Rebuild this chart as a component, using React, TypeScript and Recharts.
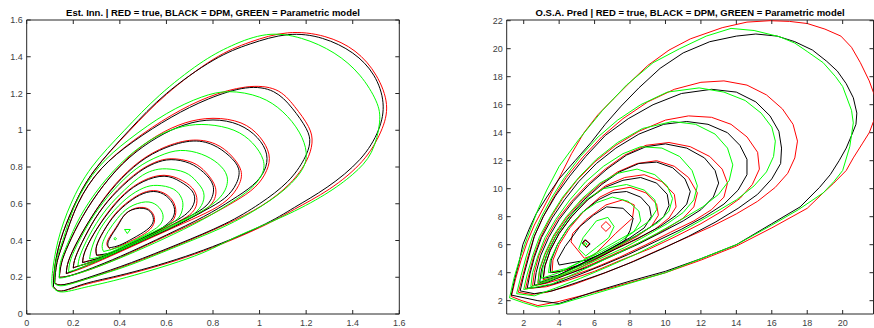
import React from 'react';
import { LineChart, Line, XAxis, YAxis, ReferenceArea } from 'recharts';

type Pt = [number, number];

const FONT = '"Liberation Sans", Arial, Helvetica, sans-serif';
const AXIS = '#262626';
const H = 328;

const estTicks = [0, 0.2, 0.4, 0.6, 0.8, 1, 1.2, 1.4, 1.6];
const osaXTicks = [2, 4, 6, 8, 10, 12, 14, 16, 18, 20];
const osaYTicks = [2, 4, 6, 8, 10, 12, 14, 16, 18, 20, 22];

// ---- Est. Inn. panel contours ----
const innTrue: Pt[][] = [
  [[0.115,0.15],[0.12,0.25],[0.145,0.40],[0.20,0.58],[0.29,0.78],[0.44,0.995],[0.60,1.195],[0.80,1.385],[0.96,1.48],[1.12,1.53],[1.28,1.51],[1.41,1.43],[1.50,1.30],[1.545,1.14],[1.52,0.99],[1.44,0.83],[1.30,0.68],[1.15,0.57],[1.00,0.47],[0.72,0.325],[0.43,0.215],[0.25,0.16],[0.15,0.125],[0.115,0.15]],
  [[0.12,0.17],[0.13,0.28],[0.16,0.40],[0.22,0.60],[0.32,0.79],[0.46,0.945],[0.62,1.08],[0.78,1.18],[0.94,1.235],[1.07,1.22],[1.15,1.13],[1.21,1.02],[1.225,0.93],[1.20,0.83],[1.13,0.71],[1.01,0.59],[0.85,0.485],[0.65,0.375],[0.45,0.275],[0.28,0.20],[0.16,0.16],[0.12,0.17]],
  [[0.14,0.20],[0.15,0.28],[0.18,0.38],[0.24,0.53],[0.33,0.70],[0.44,0.855],[0.56,0.97],[0.68,1.04],[0.80,1.065],[0.92,1.04],[1.00,0.965],[1.04,0.87],[1.03,0.78],[0.98,0.69],[0.89,0.61],[0.76,0.52],[0.60,0.425],[0.44,0.33],[0.30,0.255],[0.19,0.21],[0.14,0.20]],
  [[0.17,0.22],[0.18,0.29],[0.22,0.40],[0.28,0.53],[0.36,0.675],[0.46,0.805],[0.57,0.895],[0.70,0.945],[0.81,0.925],[0.88,0.86],[0.92,0.78],[0.91,0.70],[0.86,0.62],[0.77,0.55],[0.64,0.475],[0.50,0.395],[0.36,0.315],[0.24,0.25],[0.17,0.22]],
  [[0.20,0.25],[0.21,0.31],[0.25,0.42],[0.31,0.55],[0.39,0.675],[0.48,0.775],[0.55,0.825],[0.62,0.845],[0.71,0.825],[0.77,0.77],[0.81,0.69],[0.80,0.61],[0.745,0.55],[0.65,0.49],[0.54,0.425],[0.42,0.355],[0.30,0.29],[0.22,0.26],[0.20,0.25]],
  [[0.24,0.28],[0.25,0.34],[0.29,0.44],[0.35,0.555],[0.42,0.655],[0.50,0.725],[0.59,0.755],[0.67,0.725],[0.72,0.67],[0.73,0.60],[0.70,0.54],[0.63,0.49],[0.54,0.435],[0.44,0.375],[0.34,0.315],[0.27,0.29],[0.24,0.28]],
  [[0.30,0.32],[0.30,0.37],[0.33,0.45],[0.38,0.545],[0.44,0.615],[0.50,0.66],[0.56,0.67],[0.615,0.635],[0.64,0.57],[0.625,0.505],[0.57,0.455],[0.50,0.405],[0.42,0.355],[0.35,0.325],[0.30,0.32]],
  [[0.36,0.35],[0.345,0.39],[0.375,0.455],[0.40,0.505],[0.44,0.56],[0.50,0.58],[0.54,0.55],[0.548,0.50],[0.52,0.45],[0.46,0.405],[0.40,0.37],[0.36,0.35]],
];

const innDpm: Pt[][] = [
  [[0.115,0.15],[0.12,0.25],[0.145,0.40],[0.20,0.58],[0.29,0.78],[0.44,1.00],[0.60,1.20],[0.80,1.38],[0.96,1.47],[1.12,1.52],[1.27,1.50],[1.40,1.42],[1.49,1.30],[1.53,1.15],[1.51,1.00],[1.43,0.84],[1.29,0.69],[1.15,0.58],[1.00,0.475],[0.72,0.33],[0.43,0.22],[0.25,0.165],[0.15,0.125],[0.115,0.15]],
  [[0.12,0.17],[0.13,0.28],[0.16,0.40],[0.22,0.60],[0.32,0.79],[0.46,0.94],[0.62,1.07],[0.78,1.17],[0.94,1.23],[1.06,1.21],[1.14,1.12],[1.20,1.01],[1.215,0.93],[1.19,0.84],[1.12,0.72],[1.00,0.60],[0.85,0.49],[0.65,0.38],[0.45,0.28],[0.28,0.205],[0.16,0.16],[0.12,0.17]],
  [[0.14,0.20],[0.15,0.28],[0.18,0.38],[0.24,0.53],[0.33,0.70],[0.44,0.85],[0.56,0.96],[0.68,1.03],[0.80,1.056],[0.91,1.03],[0.99,0.96],[1.03,0.87],[1.02,0.78],[0.97,0.70],[0.88,0.62],[0.76,0.53],[0.60,0.43],[0.44,0.335],[0.30,0.26],[0.19,0.21],[0.14,0.20]],
  [[0.17,0.22],[0.18,0.29],[0.22,0.40],[0.28,0.53],[0.36,0.67],[0.46,0.80],[0.57,0.89],[0.70,0.94],[0.80,0.92],[0.87,0.86],[0.91,0.79],[0.90,0.71],[0.85,0.63],[0.76,0.56],[0.64,0.48],[0.50,0.40],[0.36,0.32],[0.24,0.255],[0.17,0.22]],
  [[0.20,0.25],[0.21,0.31],[0.25,0.42],[0.31,0.55],[0.39,0.67],[0.48,0.77],[0.55,0.82],[0.62,0.84],[0.70,0.82],[0.76,0.77],[0.80,0.70],[0.79,0.62],[0.74,0.56],[0.65,0.50],[0.54,0.43],[0.42,0.36],[0.30,0.295],[0.22,0.26],[0.20,0.25]],
  [[0.24,0.28],[0.25,0.34],[0.29,0.44],[0.35,0.55],[0.42,0.65],[0.50,0.72],[0.59,0.75],[0.66,0.72],[0.71,0.67],[0.72,0.61],[0.69,0.55],[0.63,0.50],[0.54,0.44],[0.44,0.38],[0.34,0.32],[0.27,0.29],[0.24,0.28]],
  [[0.30,0.32],[0.30,0.37],[0.33,0.45],[0.38,0.54],[0.44,0.61],[0.50,0.655],[0.56,0.665],[0.61,0.63],[0.635,0.57],[0.62,0.51],[0.57,0.46],[0.50,0.41],[0.42,0.36],[0.35,0.33],[0.30,0.32]],
  [[0.355,0.36],[0.35,0.393],[0.379,0.457],[0.40,0.50],[0.436,0.557],[0.50,0.575],[0.536,0.548],[0.543,0.502],[0.515,0.457],[0.457,0.412],[0.40,0.375],[0.355,0.36]],
];

const innParam: Pt[][] = [
  [[0.11,0.15],[0.11,0.22],[0.135,0.40],[0.19,0.60],[0.28,0.80],[0.42,1.00],[0.57,1.19],[0.74,1.36],[0.88,1.46],[1.03,1.52],[1.18,1.50],[1.32,1.42],[1.43,1.30],[1.50,1.16],[1.515,1.04],[1.48,0.88],[1.40,0.76],[1.28,0.65],[1.10,0.53],[0.90,0.42],[0.72,0.315],[0.43,0.20],[0.25,0.145],[0.15,0.12],[0.11,0.15]],
  [[0.12,0.165],[0.125,0.28],[0.155,0.40],[0.21,0.60],[0.31,0.80],[0.44,0.95],[0.60,1.09],[0.75,1.18],[0.87,1.21],[1.00,1.18],[1.10,1.10],[1.17,0.99],[1.20,0.88],[1.18,0.78],[1.10,0.67],[0.98,0.565],[0.83,0.465],[0.63,0.36],[0.44,0.265],[0.27,0.195],[0.16,0.155],[0.12,0.165]],
  [[0.14,0.195],[0.145,0.28],[0.175,0.38],[0.23,0.53],[0.32,0.70],[0.43,0.85],[0.55,0.96],[0.67,1.02],[0.78,1.03],[0.89,1.00],[0.97,0.93],[1.015,0.84],[1.01,0.76],[0.96,0.68],[0.87,0.60],[0.75,0.51],[0.59,0.41],[0.43,0.32],[0.29,0.25],[0.18,0.205],[0.14,0.195]],
  [[0.18,0.23],[0.19,0.30],[0.23,0.41],[0.29,0.54],[0.37,0.67],[0.47,0.79],[0.57,0.86],[0.66,0.89],[0.75,0.87],[0.82,0.82],[0.86,0.75],[0.85,0.67],[0.80,0.60],[0.71,0.53],[0.59,0.455],[0.46,0.38],[0.33,0.305],[0.23,0.25],[0.18,0.23]],
  [[0.22,0.26],[0.23,0.32],[0.27,0.43],[0.33,0.55],[0.40,0.65],[0.48,0.74],[0.54,0.78],[0.60,0.79],[0.68,0.77],[0.73,0.72],[0.76,0.66],[0.75,0.59],[0.70,0.53],[0.61,0.475],[0.50,0.41],[0.39,0.345],[0.29,0.29],[0.22,0.26]],
  [[0.27,0.30],[0.28,0.36],[0.31,0.45],[0.36,0.54],[0.43,0.63],[0.50,0.685],[0.56,0.70],[0.63,0.68],[0.665,0.63],[0.67,0.58],[0.65,0.52],[0.59,0.475],[0.50,0.42],[0.41,0.365],[0.32,0.315],[0.27,0.30]],
  [[0.33,0.34],[0.325,0.38],[0.35,0.45],[0.39,0.52],[0.44,0.58],[0.51,0.61],[0.56,0.59],[0.585,0.54],[0.575,0.49],[0.535,0.45],[0.47,0.405],[0.40,0.365],[0.33,0.34]],
];

const innParamPeaks: Pt[][] = [
  [[0.42,0.46],[0.445,0.46],[0.432,0.438],[0.42,0.46]],
  [[0.374,0.41],[0.38,0.416],[0.386,0.41],[0.38,0.403],[0.374,0.41]],
];

// ---- O.S.A. Pred panel contours ----
const osaTrue: Pt[][] = [
  [[1.3,2.3],[1.55,3.6],[1.85,4.9],[2.2,6.2],[2.6,7.4],[3.1,8.6],[3.6,9.8],[4.1,11.0],[4.7,12.5],[5.4,14.0],[6.2,15.3],[7.05,16.4],[8.0,17.6],[9.0,18.8],[10.2,19.9],[11.4,20.7],[13.2,21.5],[14.6,21.9],[15.9,22.0],[17.0,21.95],[18.0,21.8],[19.0,21.4],[19.9,20.9],[20.5,20.1],[21.0,19.0],[21.5,17.7],[21.9,16.3],[21.8,15.0],[21.5,14.0],[21.1,13.2],[20.6,12.2],[20.2,11.3],[19.5,10.4],[18.9,9.7],[18.0,8.6],[16.0,7.2],[14.0,5.9],[12.0,4.9],[10.0,4.0],[8.0,3.3],[6.0,2.6],[4.0,1.95],[2.8,1.65],[1.9,2.0],[1.3,2.3]],
  [[1.7,2.6],[1.95,3.8],[2.25,5.2],[2.6,6.6],[3.1,8.0],[3.7,9.4],[4.4,10.8],[5.3,12.2],[6.4,13.7],[7.6,15.0],[9.0,16.2],[10.5,17.1],[12.0,17.6],[13.3,17.7],[14.6,17.4],[15.7,16.7],[16.6,15.7],[17.2,14.6],[17.45,13.4],[17.3,12.2],[16.9,11.1],[16.2,10.1],[15.2,9.1],[14.0,8.2],[12.6,7.3],[11.0,6.4],[9.4,5.5],[7.8,4.6],[6.2,3.8],[4.7,3.1],[3.3,2.6],[2.4,2.45],[1.7,2.6]],
  [[2.1,2.85],[2.3,3.9],[2.55,5.1],[2.95,6.5],[3.5,7.9],[4.2,9.3],[5.0,10.6],[6.0,11.9],[7.2,13.1],[8.5,14.1],[10.0,14.9],[11.3,15.2],[12.6,15.1],[13.7,14.6],[14.6,13.7],[15.2,12.6],[15.3,11.4],[14.9,10.3],[14.2,9.3],[13.2,8.4],[12.0,7.5],[10.6,6.6],[9.1,5.7],[7.5,4.9],[6.0,4.1],[4.6,3.5],[3.3,3.0],[2.1,2.85]],
  [[2.5,3.05],[2.6,4.0],[2.85,5.2],[3.3,6.5],[3.9,7.8],[4.7,9.1],[5.6,10.3],[6.6,11.4],[7.7,12.4],[8.9,13.1],[10.2,13.3],[11.4,13.0],[12.5,12.3],[13.2,11.4],[13.5,10.4],[13.3,9.4],[12.6,8.5],[11.6,7.7],[10.3,6.9],[8.9,6.0],[7.4,5.1],[5.9,4.3],[4.5,3.7],[3.3,3.25],[2.5,3.05]],
  [[2.8,3.2],[2.9,4.2],[3.2,5.3],[3.7,6.6],[4.4,7.9],[5.3,9.2],[6.3,10.3],[7.3,11.2],[8.4,11.8],[9.5,12.0],[10.5,11.6],[11.3,10.8],[11.8,9.7],[11.6,8.7],[11.0,7.9],[10.0,7.1],[8.8,6.3],[7.4,5.5],[6.0,4.7],[4.7,4.0],[3.6,3.5],[2.8,3.2]],
  [[3.1,3.5],[3.2,4.5],[3.5,5.6],[4.0,6.8],[4.7,8.0],[5.6,9.2],[6.6,10.2],[7.7,10.8],[8.8,11.0],[9.8,10.5],[10.5,9.6],[10.6,8.7],[10.2,7.9],[9.4,7.1],[8.4,6.4],[7.2,5.7],[6.0,4.9],[4.9,4.2],[3.9,3.7],[3.1,3.5]],
  [[3.6,4.0],[3.65,4.9],[4.0,6.0],[4.6,7.2],[5.4,8.4],[6.3,9.4],[7.1,9.9],[8.0,10.1],[8.9,9.7],[9.5,8.9],[9.6,8.1],[9.2,7.3],[8.4,6.6],[7.4,5.9],[6.3,5.2],[5.3,4.6],[4.3,4.15],[3.6,4.0]],
  [[4.67,6.2],[5.42,5.03],[5.98,5.27],[7.2,6.82],[8.14,7.9],[8.24,8.84],[7.58,9.2],[6.64,8.84],[5.5,7.77],[4.76,6.8],[4.67,6.2]],
  [[6.36,7.3],[6.64,7.65],[6.92,7.3],[6.64,6.95],[6.36,7.3]],
  [[5.35,6.1],[5.5,6.35],[5.72,6.1],[5.55,5.85],[5.35,6.1]],
];

const osaDpm: Pt[][] = [
  [[1.3,2.4],[1.5,3.6],[1.75,4.8],[1.95,6.0],[2.3,7.1],[2.7,8.2],[3.3,9.4],[4.0,10.7],[4.9,12.0],[5.8,13.3],[6.6,14.6],[7.5,15.9],[8.5,17.2],[9.7,18.6],[11.0,19.7],[12.5,20.5],[14.0,20.9],[15.1,21.05],[16.3,20.9],[17.3,20.5],[18.3,19.9],[19.1,19.1],[19.7,18.4],[20.2,17.5],[20.6,16.5],[20.8,15.4],[20.75,14.6],[20.5,13.8],[20.2,12.9],[19.8,12.0],[19.3,11.0],[18.7,10.1],[17.6,8.7],[16.0,7.5],[14.0,6.0],[12.0,5.0],[10.0,4.1],[8.0,3.4],[6.0,2.65],[4.0,1.8],[2.8,2.0],[1.3,2.4]],
  [[1.8,2.7],[2.0,3.8],[2.3,5.2],[2.6,6.6],[3.1,8.0],[3.8,9.5],[4.6,10.9],[5.5,12.3],[6.6,13.8],[7.9,15.0],[9.3,16.0],[10.9,16.8],[12.6,17.1],[14.0,16.9],[15.1,16.2],[15.9,15.2],[16.4,14.1],[16.55,12.9],[16.5,11.8],[16.0,10.7],[15.2,9.6],[14.1,8.6],[12.8,7.6],[11.3,6.6],[9.8,5.7],[8.2,4.8],[6.6,4.0],[5.0,3.3],[3.6,2.7],[2.6,2.5],[1.8,2.7]],
  [[2.2,2.9],[2.35,3.9],[2.6,5.1],[3.0,6.5],[3.6,7.9],[4.3,9.2],[5.1,10.5],[6.1,11.8],[7.2,12.9],[8.5,13.9],[9.9,14.6],[11.2,14.8],[12.4,14.6],[13.5,14.0],[14.2,13.1],[14.6,12.1],[14.6,11.0],[14.1,9.9],[13.3,8.9],[12.2,8.0],[10.9,7.1],[9.4,6.2],[7.9,5.3],[6.4,4.5],[5.0,3.8],[3.7,3.2],[2.8,2.95],[2.2,2.9]],
  [[2.6,3.1],[2.7,4.0],[2.95,5.2],[3.4,6.5],[4.0,7.8],[4.8,9.1],[5.7,10.3],[6.7,11.4],[7.8,12.4],[8.9,13.0],[10.0,13.2],[11.2,12.9],[12.2,12.2],[12.8,11.3],[13.0,10.4],[12.7,9.4],[12.0,8.5],[11.0,7.7],[9.8,6.9],[8.4,6.0],[7.0,5.2],[5.6,4.4],[4.3,3.8],[3.3,3.3],[2.6,3.1]],
  [[2.9,3.3],[3.0,4.2],[3.3,5.3],[3.8,6.6],[4.5,7.9],[5.4,9.2],[6.4,10.3],[7.4,11.2],[8.5,11.8],[9.5,11.9],[10.4,11.5],[11.1,10.7],[11.4,9.8],[11.2,8.9],[10.6,8.1],[9.7,7.3],[8.5,6.5],[7.2,5.7],[5.9,4.9],[4.6,4.2],[3.6,3.6],[2.9,3.3]],
  [[3.1,3.6],[3.2,4.5],[3.5,5.6],[4.0,6.8],[4.7,8.0],[5.6,9.2],[6.6,10.1],[7.6,10.6],[8.6,10.8],[9.5,10.4],[10.1,9.6],[10.2,8.8],[9.9,8.0],[9.2,7.3],[8.3,6.6],[7.2,5.9],[6.0,5.1],[4.9,4.4],[3.9,3.8],[3.1,3.6]],
  [[3.5,4.0],[3.55,4.9],[3.9,6.0],[4.5,7.2],[5.3,8.3],[6.2,9.2],[7.0,9.7],[7.8,9.8],[8.6,9.4],[9.1,8.7],[9.2,8.0],[8.8,7.2],[8.0,6.5],[7.0,5.8],[6.0,5.1],[5.0,4.5],[4.1,4.1],[3.5,4.0]],
  [[4.0,4.55],[3.9,4.9],[4.33,5.86],[5.17,7.3],[5.93,8.1],[6.68,8.7],[7.6,8.6],[8.18,7.9],[8.0,7.0],[7.7,6.3],[6.68,5.5],[5.55,4.9],[4.0,4.55]],
  [[5.3,6.1],[5.45,6.35],[5.75,6.05],[5.55,5.8],[5.3,6.1]],
];

const osaParam: Pt[][] = [
  [[1.2,2.2],[1.45,3.6],[1.75,4.9],[2.2,6.5],[2.8,8.5],[3.3,9.9],[4.0,11.6],[5.1,13.5],[6.45,15.6],[7.8,17.4],[9.3,19.0],[10.8,20.0],[12.3,20.9],[13.7,21.45],[15.0,21.3],[16.45,20.85],[17.3,20.4],[18.0,19.8],[18.9,19.0],[19.6,18.0],[20.0,17.3],[20.5,15.6],[20.6,14.7],[20.4,13.0],[20.0,11.3],[19.5,10.5],[18.9,9.7],[17.5,8.5],[16.0,7.4],[14.0,6.0],[12.0,5.0],[10.0,4.0],[8.0,3.25],[6.0,2.5],[4.0,1.75],[2.8,1.55],[2.0,1.85],[1.2,2.2]],
  [[1.6,2.5],[1.85,3.8],[2.15,5.2],[2.5,6.6],[3.0,8.0],[3.6,9.4],[4.3,10.8],[5.2,12.3],[6.2,13.7],[7.3,14.9],[8.6,16.0],[10.1,16.9],[11.9,17.2],[13.3,16.9],[14.5,16.3],[15.4,15.4],[16.0,14.4],[16.2,13.4],[16.1,12.3],[15.7,11.2],[15.0,10.2],[14.0,9.2],[12.8,8.3],[11.4,7.3],[9.9,6.3],[8.3,5.3],[6.7,4.4],[5.2,3.6],[3.8,2.9],[2.6,2.35],[1.6,2.5]],
  [[2.0,2.8],[2.2,3.9],[2.5,5.2],[2.9,6.6],[3.5,8.0],[4.2,9.4],[5.1,10.8],[6.1,12.1],[7.3,13.3],[8.7,14.3],[10.4,14.8],[11.7,14.6],[12.8,13.9],[13.5,12.9],[13.8,11.7],[13.6,10.6],[13.0,9.6],[12.1,8.7],[10.9,7.8],[9.5,6.8],[8.0,5.8],[6.5,4.9],[5.0,4.0],[3.6,3.2],[2.0,2.8]],
  [[2.4,3.0],[2.5,4.0],[2.8,5.2],[3.2,6.5],[3.8,7.8],[4.6,9.2],[5.5,10.5],[6.5,11.6],[7.6,12.5],[8.6,13.0],[9.8,12.9],[10.8,12.3],[11.5,11.3],[11.8,10.2],[11.6,9.2],[11.0,8.3],[10.1,7.5],[9.0,6.7],[7.7,5.8],[6.3,5.0],[4.9,4.2],[3.6,3.5],[2.4,3.0]],
  [[2.8,3.3],[2.9,4.3],[3.2,5.4],[3.7,6.7],[4.4,8.0],[5.3,9.3],[6.3,10.4],[7.3,11.1],[8.4,11.4],[9.4,11.0],[10.1,10.2],[10.4,9.3],[10.2,8.4],[9.6,7.6],[8.7,6.9],[7.6,6.1],[6.4,5.3],[5.2,4.5],[4.0,3.8],[2.8,3.3]],
  [[3.0,3.6],[3.1,4.5],[3.4,5.6],[3.9,6.8],[4.6,8.0],[5.5,9.2],[6.5,10.0],[7.8,10.3],[8.8,9.9],[9.4,9.2],[9.5,8.5],[9.1,7.7],[8.3,7.0],[7.3,6.3],[6.2,5.5],[5.1,4.7],[4.0,4.0],[3.0,3.6]],
  [[3.4,4.0],[3.5,4.9],[3.9,6.0],[4.5,7.2],[5.3,8.3],[6.1,9.0],[7.0,9.4],[7.9,9.1],[8.5,8.4],[8.6,7.7],[8.2,6.9],[7.4,6.2],[6.4,5.5],[5.4,4.9],[4.4,4.3],[3.4,4.0]],
  [[5.1,5.7],[5.35,6.5],[6.1,7.7],[6.75,7.95],[7.1,7.3],[6.8,6.5],[6.1,5.8],[5.5,5.2],[5.1,5.7]],
  [[5.35,6.0],[5.45,6.15],[5.58,6.05],[5.45,5.92],[5.35,6.0]],
];

type Curve = 'natural' | 'linear';
type Group = { color: string; contours: Pt[][]; curve: Curve };

const RED = '#ff0000';
const BLACK = '#000000';
const GREEN = '#00ff00';

const toRows = (c: Pt[]) => c.map(([x, y]) => ({ x, y }));

// axis sits on the plot edge; ticks point inward, mirrored on the opposite side
const xTick = (top: number) => (props: any) => {
  const { x, y, payload } = props;
  return (
    <g>
      <line x1={x} y1={y} x2={x} y2={y - 4} stroke={AXIS} />
      <line x1={x} y1={top} x2={x} y2={top + 4} stroke={AXIS} />
      <text x={x} y={y + 12} textAnchor="middle" fontSize={9} fontFamily={FONT} fill="#404040">
        {payload.value}
      </text>
    </g>
  );
};

const yTick = (right: number) => (props: any) => {
  const { x, y, payload } = props;
  return (
    <g>
      <line x1={x} y1={y} x2={x + 4} y2={y} stroke={AXIS} />
      <line x1={right} y1={y} x2={right - 4} y2={y} stroke={AXIS} />
      <text x={x - 4} y={y + 3} textAnchor="end" fontSize={9} fontFamily={FONT} fill="#404040">
        {payload.value}
      </text>
    </g>
  );
};

interface PanelProps {
  title: string;
  left: number;
  width: number;
  plot: { left: number; top: number; right: number; bottom: number };
  xDomain: [number, number];
  yDomain: [number, number];
  xTicks: number[];
  yTicks: number[];
  groups: Group[];
}

const Panel: React.FC<PanelProps> = ({ title, left, width, plot, xDomain, yDomain, xTicks, yTicks, groups }) => {
  // axes need a size of at least 1px or recharts skips them
  const margin = { top: plot.top, right: width - plot.right, bottom: H - plot.bottom - 1, left: plot.left - 1 };
  return (
    <div style={{ position: 'absolute', left, top: 0, width, height: H }}>
      <div
        style={{
          position: 'absolute',
          left: plot.left,
          top: 7,
          width: plot.right - plot.left,
          textAlign: 'center',
          fontFamily: FONT,
          fontWeight: 'bold',
          fontSize: 9.5,
          lineHeight: '12px',
          whiteSpace: 'nowrap',
          color: '#000',
        }}
      >
        {title}
      </div>
      <LineChart width={width} height={H} margin={margin}>
        <XAxis
          type="number"
          dataKey="x"
          domain={xDomain}
          allowDataOverflow
          ticks={xTicks}
          interval={0}
          height={1}
          tickSize={0}
          tickMargin={0}
          axisLine={false}
          tickLine={false}
          tick={xTick(plot.top)}
        />
        <YAxis
          type="number"
          domain={yDomain}
          allowDataOverflow
          ticks={yTicks}
          interval={0}
          width={1}
          tickSize={0}
          tickMargin={0}
          axisLine={false}
          tickLine={false}
          tick={yTick(plot.right)}
        />
        {groups.flatMap((g, gi) =>
          g.contours.map((c, ci) => (
            <Line
              key={`${gi}-${ci}`}
              data={toRows(c)}
              dataKey="y"
              type={g.curve}
              stroke={g.color}
              strokeWidth={1}
              dot={false}
              activeDot={false}
              isAnimationActive={false}
            />
          ))
        )}
        <ReferenceArea
          x1={xDomain[0]}
          x2={xDomain[1]}
          y1={yDomain[0]}
          y2={yDomain[1]}
          fill="none"
          fillOpacity={0}
          stroke={AXIS}
          strokeWidth={1}
          ifOverflow="visible"
        />
      </LineChart>
    </div>
  );
};

export default function App() {
  const innGroups: Group[] = [
    { color: RED, contours: innTrue, curve: 'natural' },
    { color: BLACK, contours: innDpm, curve: 'natural' },
    { color: GREEN, contours: innParam, curve: 'natural' },
    { color: GREEN, contours: innParamPeaks, curve: 'linear' },
  ];
  const osaGroups: Group[] = [
    { color: RED, contours: osaTrue, curve: 'linear' },
    { color: BLACK, contours: osaDpm, curve: 'linear' },
    { color: GREEN, contours: osaParam, curve: 'linear' },
  ];
  return (
    <div style={{ position: 'absolute', left: 0, top: 0, width: 874, height: H, background: '#fff', overflow: 'hidden' }}>
      <Panel
        title="Est. Inn. | RED = true, BLACK = DPM, GREEN = Parametric model"
        left={0}
        width={440}
        plot={{ left: 26.7, top: 20, right: 399.3, bottom: 314 }}
        xDomain={[0, 1.6]}
        yDomain={[0, 1.6]}
        xTicks={estTicks}
        yTicks={estTicks}
        groups={innGroups}
      />
      <Panel
        title="O.S.A. Pred | RED = true, BLACK = DPM, GREEN = Parametric model"
        left={440}
        width={434}
        plot={{ left: 66.7, top: 20, right: 433.5, bottom: 314 }}
        xDomain={[1.04, 21.74]}
        yDomain={[1.05, 22.05]}
        xTicks={osaXTicks}
        yTicks={osaYTicks}
        groups={osaGroups}
      />
    </div>
  );
}
